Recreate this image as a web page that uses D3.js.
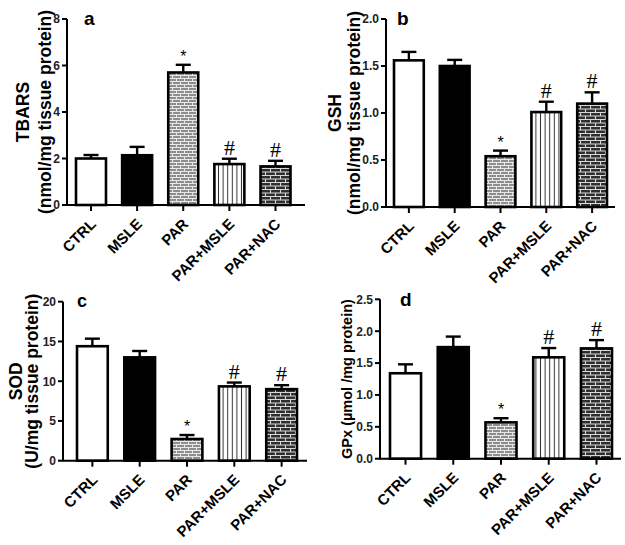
<!DOCTYPE html>
<html><head><meta charset="utf-8">
<script src="https://cdn.jsdelivr.net/npm/d3@7"></script>
<style>
html,body{margin:0;padding:0;background:#fff;}
svg{display:block;font-family:"Liberation Sans",Arial,sans-serif;}
</style></head>
<body>
<svg id="chart" width="625" height="545"></svg>
<script>
const categories = ["CTRL", "MSLE", "PAR", "PAR+MSLE", "PAR+NAC"];
const sigMarks = ["", "", "*", "#", "#"];

const tbarsMean = [2.0, 2.14, 5.7, 1.76, 1.66];
const tbarsErr  = [0.15, 0.36, 0.33, 0.23, 0.24];
const tbarsTicks = [0, 2, 4, 6, 8];

const gshMean = [1.56, 1.50, 0.54, 1.01, 1.10];
const gshErr  = [0.09, 0.065, 0.06, 0.11, 0.12];
const gshTicks = [0, 0.5, 1.0, 1.5, 2.0];

const sodMean = [14.4, 13.0, 2.73, 9.35, 9.0];
const sodErr  = [0.95, 0.8, 0.5, 0.48, 0.5];
const sodTicks = [0, 5, 10, 15, 20];

const gpxMean = [1.34, 1.75, 0.57, 1.59, 1.73];
const gpxErr  = [0.14, 0.165, 0.065, 0.145, 0.13];
const gpxTicks = [0, 0.5, 1.0, 1.5, 2.0, 2.5];

const svg = d3.select("#chart");
const defs = svg.append("defs");

// light grey brick (PAR)
const p1 = defs.append("pattern").attr("id","brickLight").attr("patternUnits","userSpaceOnUse")
  .attr("width",8).attr("height",6);
p1.append("rect").attr("width",8).attr("height",6).attr("fill","#8e8e8e");
p1.append("path").attr("d","M0,0.5H8M0,3.5H8M0.5,0.5V3.5M4.5,3.5V6").attr("stroke","#e8e8e8").attr("stroke-width",1).attr("fill","none");
// vertical lines (PAR+MSLE)
const p2 = defs.append("pattern").attr("id","vlines").attr("patternUnits","userSpaceOnUse")
  .attr("width",4.6).attr("height",10);
p2.append("rect").attr("width",4.6).attr("height",10).attr("fill","#fff");
p2.append("line").attr("x1",2.3).attr("x2",2.3).attr("y1",0).attr("y2",10).attr("stroke","#333").attr("stroke-width",1);
// dark brick (PAR+NAC)
const p3 = defs.append("pattern").attr("id","brickDark").attr("patternUnits","userSpaceOnUse")
  .attr("width",10).attr("height",7);
p3.append("rect").attr("width",10).attr("height",7).attr("fill","#2e2e2e");
p3.append("path").attr("d","M0,0.5H10M0,4H10M0.5,0.5V4M5.5,4V7").attr("stroke","#d8d8d8").attr("stroke-width",1.1).attr("fill","none");

const fills = ["#fff", "#000", "url(#brickLight)", "url(#vlines)", "url(#brickDark)"];

const panels = [
  {letter:"a", mean:tbarsMean, err:tbarsErr, ticks:tbarsTicks, fmt:d3.format("d"),
   axisX:67, axisEnd:305, y0:205, yTop:19, barL:76, barR:290.5,
   labels:[{t:"TBARS", x:23},{t:"(nmol/mg tissue protein)", x:45}], labelSize:17.5,
   letterX:84, letterY:25, letterSize:19},
  {letter:"b", mean:gshMean, err:gshErr, ticks:gshTicks, fmt:d3.format(".1f"),
   axisX:386, axisEnd:615, y0:207, yTop:19, barL:394, barR:607,
   labels:[{t:"GSH", x:335},{t:"(nmol/mg tissue protein)", x:354}], labelSize:17.5,
   letterX:397, letterY:25, letterSize:19},
  {letter:"c", mean:sodMean, err:sodErr, ticks:sodTicks, fmt:d3.format("d"),
   axisX:63, axisEnd:307, y0:460.7, yTop:301.7, barL:77, barR:297,
   labels:[{t:"SOD", x:16},{t:"(U/mg tissue protein)", x:32}], labelSize:17.5,
   letterX:77, letterY:307, letterSize:18},
  {letter:"d", mean:gpxMean, err:gpxErr, ticks:gpxTicks, fmt:d3.format(".1f"),
   axisX:380, axisEnd:621, y0:458.7, yTop:299.3, barL:390, barR:612,
   labels:[{t:"GPx (µmol /mg protein)", x:347}], labelSize:14.5,
   letterX:400, letterY:306, letterSize:19}
];

panels.forEach(p => {
  const g = svg.append("g");
  const y = d3.scaleLinear().domain([0, d3.max(p.ticks)]).range([p.y0, p.yTop]);
  const x = d3.scaleBand().domain(categories).range([p.barL, p.barR]).paddingInner(0.35).paddingOuter(0);
  const bw = x.bandwidth();

  // bars
  g.selectAll("rect.bar").data(categories).join("rect")
    .attr("class","bar")
    .attr("x", c => x(c))
    .attr("y", (c,i) => y(p.mean[i]))
    .attr("width", bw)
    .attr("height", (c,i) => p.y0 - y(p.mean[i]))
    .attr("fill", (c,i) => fills[i])
    .attr("stroke","#000").attr("stroke-width",2.6);

  // error bars (upper only)
  const eb = g.selectAll("g.err").data(categories).join("g").attr("class","err");
  eb.append("line")
    .attr("x1", c => x(c)+bw/2).attr("x2", c => x(c)+bw/2)
    .attr("y1", (c,i) => y(p.mean[i])).attr("y2", (c,i) => y(p.mean[i]+p.err[i]))
    .attr("stroke","#000").attr("stroke-width",2.4);
  eb.append("line")
    .attr("x1", c => x(c)+bw/2-7.5).attr("x2", c => x(c)+bw/2+7.5)
    .attr("y1", (c,i) => y(p.mean[i]+p.err[i])).attr("y2", (c,i) => y(p.mean[i]+p.err[i]))
    .attr("stroke","#000").attr("stroke-width",2.4);

  // significance marks
  g.selectAll("text.sig").data(categories).join("text")
    .attr("class","sig")
    .attr("x", c => x(c)+bw/2)
    .attr("y", (c,i) => y(p.mean[i]+p.err[i]) - (sigMarks[i]==="*" ? 3 : 4))
    .attr("text-anchor","middle")
    .attr("font-family", (c,i) => sigMarks[i]==="#" ? "'Liberation Serif','Times New Roman',serif" : "'Liberation Sans',Arial,sans-serif")
    .attr("font-size", (c,i) => sigMarks[i]==="#" ? 22 : 16)
    .text((c,i) => sigMarks[i]);

  // axes lines
  g.append("line").attr("x1",p.axisX).attr("x2",p.axisX).attr("y1",p.y0).attr("y2",p.yTop)
    .attr("stroke","#000").attr("stroke-width",2);
  g.append("line").attr("x1",p.axisX-1).attr("x2",p.axisEnd).attr("y1",p.y0).attr("y2",p.y0)
    .attr("stroke","#000").attr("stroke-width",2);

  // y ticks
  const yt = g.selectAll("g.yt").data(p.ticks).join("g").attr("class","yt");
  yt.append("line").attr("x1",p.axisX-5).attr("x2",p.axisX).attr("y1",d=>y(d)).attr("y2",d=>y(d))
    .attr("stroke","#000").attr("stroke-width",2);
  yt.append("text").attr("x",p.axisX-7).attr("y",d=>y(d)).attr("dy","0.36em")
    .attr("text-anchor","end").attr("font-size",12).attr("font-weight","bold").attr("fill","#222")
    .text(d => p.fmt(d));

  // x ticks and labels
  const xt = g.selectAll("g.xt").data(categories).join("g").attr("class","xt");
  xt.append("line").attr("x1",c=>x(c)+bw/2).attr("x2",c=>x(c)+bw/2).attr("y1",p.y0).attr("y2",p.y0+6)
    .attr("stroke","#000").attr("stroke-width",2);
  xt.append("text")
    .attr("transform", c => `translate(${x(c)+bw/2+6},${p.y0+20}) rotate(-45)`)
    .attr("text-anchor","end").attr("font-size",15).attr("font-weight","bold")
    .text(c => c);

  // y label
  const cy = (p.y0 + p.yTop)/2;
  p.labels.forEach(l => {
    g.append("text")
      .attr("transform", `translate(${l.x},${cy}) rotate(-90)`)
      .attr("text-anchor","middle").attr("dominant-baseline","central")
      .attr("font-size", p.labelSize).attr("font-weight","bold")
      .text(l.t);
  });

  // panel letter
  g.append("text").attr("x",p.letterX).attr("y",p.letterY)
    .attr("font-size",p.letterSize).attr("font-weight","bold")
    .text(p.letter);
});
</script>
</body></html>
